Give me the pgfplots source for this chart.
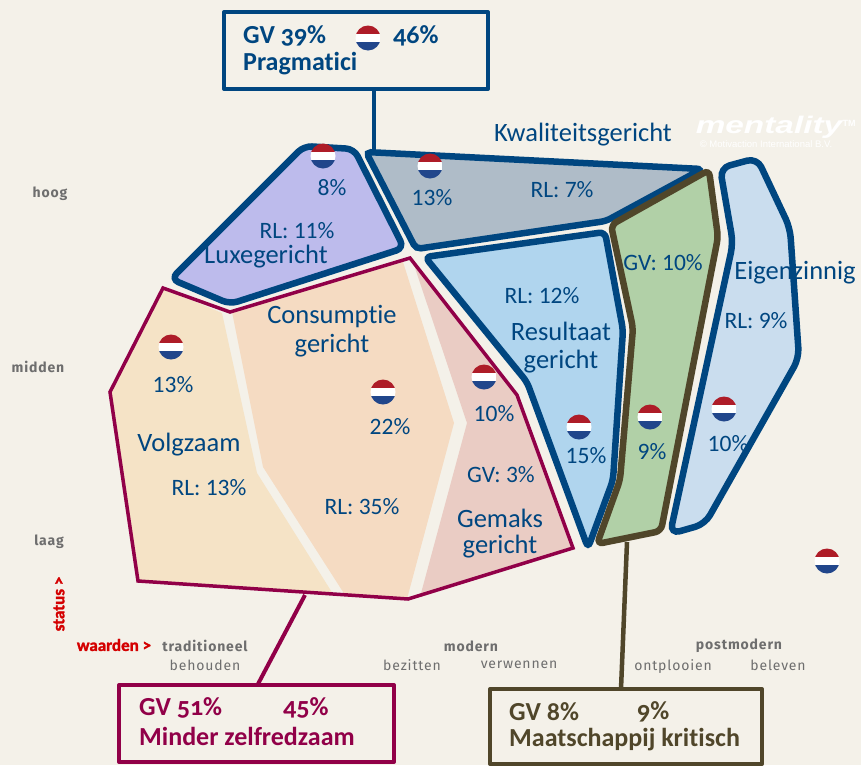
\documentclass[border=0pt]{standalone}
\usepackage{fontspec}
\usepackage{pgfplots}
\pgfplotsset{compat=1.18}
\setmainfont[Ligatures=NoCommon]{Carlito}
\newfontfamily\boxfont[Numbers=OldStyle,Ligatures=NoCommon]{Carlito}
\newfontfamily\redfont[BoldFeatures={FakeBold=1.5}]{Carlito}
\newfontfamily\sidefont[LetterSpace=6]{Fira Sans}
\newfontfamily\logofont{Liberation Sans}

\definecolor{bg}{HTML}{F4F1E9}
\definecolor{navy}{HTML}{004680}
\definecolor{maroon}{HTML}{910048}
\definecolor{olive}{HTML}{50462A}
\definecolor{luxe}{HTML}{BDBBEC}
\definecolor{kwal}{HTML}{AFBCC8}
\definecolor{resu}{HTML}{B0D5EE}
\definecolor{eigen}{HTML}{CADDEE}
\definecolor{maat}{HTML}{B1D0A7}
\definecolor{volg}{HTML}{F5E3C6}
\definecolor{cons}{HTML}{F5DBC2}
\definecolor{gemak}{HTML}{EACCC4}
\definecolor{flagred}{HTML}{AE1C28}
\definecolor{flagblue}{HTML}{21468B}
\definecolor{sidegray}{HTML}{6E6E6E}
\definecolor{statusred}{HTML}{D40000}

\pgfdeclareplotmark{nlflag}{%
  \pgfscope
  \pgfpathcircle{\pgfpointorigin}{12.5pt}\pgfusepathqclip
  \pgfsetfillcolor{flagred}
  \pgfpathrectangle{\pgfpoint{-13pt}{4pt}}{\pgfpoint{26pt}{9pt}}\pgfusepathqfill
  \pgfsetfillcolor{white}
  \pgfpathrectangle{\pgfpoint{-13pt}{-4pt}}{\pgfpoint{26pt}{8pt}}\pgfusepathqfill
  \pgfsetfillcolor{flagblue}
  \pgfpathrectangle{\pgfpoint{-13pt}{-13pt}}{\pgfpoint{26pt}{9pt}}\pgfusepathqfill
  \endpgfscope
}

\tikzset{
  lab/.style={text=navy,font=\fontsize{23.5}{26}\selectfont,inner sep=0pt},
  name/.style={text=navy,font=\fontsize{26.5}{30}\selectfont,inner sep=0pt},
  boxt/.style={font=\boxfont\bfseries\fontsize{26}{29}\selectfont,inner sep=0pt,anchor=west},
  side/.style={text=sidegray,font=\sidefont\fontsize{14}{16}\selectfont,inner sep=0pt},
  sideb/.style={text=sidegray,font=\sidefont\bfseries\fontsize{14}{16}\selectfont,inner sep=0pt},
  red/.style={text=statusred,font=\redfont\bfseries\fontsize{17}{20}\selectfont,inner sep=0pt},
}

\begin{document}
\begin{tikzpicture}
\begin{axis}[
  scale only axis,
  width=861pt,
  height=765pt,
  xmin=0, xmax=861,
  ymin=0, ymax=765,
  y dir=reverse,
  hide axis,
  clip=false,
]
% background
\addplot[fill=bg,draw=none] coordinates {(0,0) (861,0) (861,765) (0,765)} --cycle;

% connectors
\addplot[navy,line width=4pt] coordinates {(374,89) (374,152)};
\addplot[maroon,line width=4pt] coordinates {(305,595) (258,684)};
\addplot[olive,line width=4.5pt] coordinates {(627,542) (621,689)};

% boxes
\addplot[navy,line width=4pt,line join=round] coordinates {(224,12) (488,12) (488,89) (224,89)} --cycle;
\addplot[maroon,line width=4pt,line join=round] coordinates {(119,685) (394,685) (394,762) (119,762)} --cycle;
\addplot[olive,line width=4pt,line join=round] coordinates {(490,689) (762,689) (762,764) (490,764)} --cycle;

% fills of the traditional group
\addplot[fill=volg,draw=none] coordinates {(163,288) (110,392) (138,581) (333,594) (257,473) (222,313)} --cycle;
\addplot[fill=cons,draw=none] coordinates {(232,312) (263,467) (345,595) (407,599) (454,423) (403,262)} --cycle;
\addplot[fill=gemak,draw=none] coordinates {(415,268) (467,423) (420,597) (573,548) (517,395) (410,258)} --cycle;
\addplot[maroon,line width=3.5pt,line join=miter] coordinates {(163,288) (110,392) (138,581) (408,599) (573,548) (517,395) (410,258) (230,312)} --cycle;

% navy shapes
\addplot[fill=luxe,draw=navy,line width=6.5pt,rounded corners=8pt] coordinates {(171,279) (304,146) (354,149) (404,248) (230,304)} --cycle;
\addplot[fill=kwal,draw=navy,line width=6.5pt,rounded corners=5pt] coordinates {(366,152) (702,169) (606,221) (416,249)} --cycle;
\addplot[fill=resu,draw=navy,line width=6.5pt,rounded corners=6pt] coordinates {(425,257) (605,232) (623,330) (613,480) (588,548) (527,382)} --cycle;
\addplot[fill=eigen,draw=navy,line width=6.5pt,rounded corners=10pt] coordinates {(720,168) (757,158) (790,228) (799,358) (705,524) (670,534) (733,243)} --cycle;
\addplot[fill=maat,draw=olive,line width=6.5pt,rounded corners=6pt] coordinates {(611,225) (709,170) (718,237) (661,531) (597,544) (620,480) (633,328)} --cycle;

% flags
\addplot[only marks,mark=nlflag] coordinates {
  (368,38) (323,156) (430,166) (171,347) (383,392) (484,377)
  (579,427) (650,417) (724,409) (827,561)
};

% box texts
\node[boxt,text=navy] at (axis cs:243,36) {GV 39\%};
\node[boxt,text=navy] at (axis cs:393,36) {46\%};
\node[boxt,text=navy] at (axis cs:243,64) {Pragmatici};
\node[boxt,text=maroon] at (axis cs:139,708) {GV 51\%};
\node[boxt,text=maroon] at (axis cs:283,708) {45\%};
\node[boxt,text=maroon] at (axis cs:139,736) {Minder zelfredzaam};
\node[boxt,text=olive] at (axis cs:509,712) {GV 8\%};
\node[boxt,text=olive] at (axis cs:637,712) {9\%};
\node[boxt,text=olive] at (axis cs:509,740) {Maatschappij kritisch};

% segment names
\node[name] at (axis cs:583,135) {Kwaliteitsgericht};
\node[name] at (axis cs:266,257) {Luxegericht};
\node[name] at (axis cs:332,317) {Consumptie};
\node[name] at (axis cs:332,346) {gericht};
\node[name] at (axis cs:189,445) {Volgzaam};
\node[name] at (axis cs:500,518) {Gemaks};
\node[name] at (axis cs:500,547) {gericht};
\node[name] at (axis cs:561,331) {Resultaat};
\node[name] at (axis cs:561,362) {gericht};
\node[name] at (axis cs:795,273) {Eigenzinnig};

% percentages
\node[lab] at (axis cs:332,188) {8\%};
\node[lab] at (axis cs:432,198) {13\%};
\node[lab] at (axis cs:562,190) {RL: 7\%};
\node[lab] at (axis cs:297,231) {RL: 11\%};
\node[lab] at (axis cs:173,385) {13\%};
\node[lab] at (axis cs:390,427) {22\%};
\node[lab] at (axis cs:209,488) {RL: 13\%};
\node[lab] at (axis cs:362,507) {RL: 35\%};
\node[lab] at (axis cs:494,414) {10\%};
\node[lab] at (axis cs:501,475) {GV: 3\%};
\node[lab] at (axis cs:542,296) {RL: 12\%};
\node[lab] at (axis cs:586,456) {15\%};
\node[lab] at (axis cs:663,263) {GV: 10\%};
\node[lab] at (axis cs:652,452) {9\%};
\node[lab] at (axis cs:756,321) {RL: 9\%};
\node[lab] at (axis cs:728,444) {10\%};

% axis words
\node[sideb] at (axis cs:50,194) {hoog};
\node[sideb] at (axis cs:38,367) {midden};
\node[sideb] at (axis cs:49,542) {laag};
\node[red,rotate=90] at (axis cs:59,604) {status >};
\node[red] at (axis cs:114,645) {waarden >};
\node[sideb] at (axis cs:205,646) {traditioneel};
\node[side] at (axis cs:205,665) {behouden};
\node[sideb] at (axis cs:471,646) {modern};
\node[side] at (axis cs:412,665) {bezitten};
\node[side] at (axis cs:519,665) {verwennen};
\node[sideb] at (axis cs:739,646) {postmodern};
\node[side] at (axis cs:673,667) {ontplooien};
\node[side] at (axis cs:778,665) {beleven};

% logo
\node[text=white,font=\logofont\bfseries\itshape\fontsize{24}{26}\selectfont,xscale=1.39,inner sep=0pt] at (axis cs:769,127) {mentality};
\node[text=white,font=\logofont\bfseries\fontsize{9}{10}\selectfont,inner sep=0pt] at (axis cs:849,123) {TM};
\node[text=white,font=\logofont\fontsize{9.5}{11}\selectfont,inner sep=0pt] at (axis cs:766,144) {© Motivaction International B.V.};
\end{axis}
\end{tikzpicture}
\end{document}
